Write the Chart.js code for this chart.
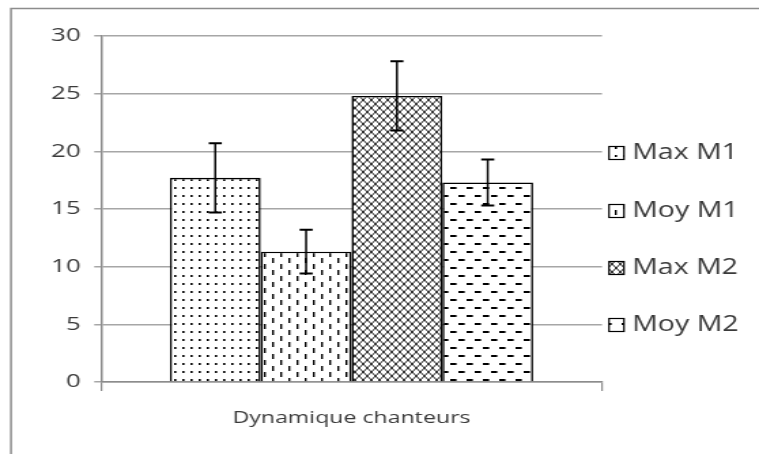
<!DOCTYPE html>
<html>
<head>
<meta charset="utf-8">
<script src="https://cdn.jsdelivr.net/npm/chart.js@4.4.1/dist/chart.umd.min.js"></script>
<style>
  html, body { margin: 0; padding: 0; background: #fff; }
</style>
</head>
<body>
<!-- the picture is stretched sideways, so the canvas is drawn narrow and scaled up -->
<canvas id="chart" width="558" height="454" style="display:block;width:759px;height:454px"></canvas>
<script>
// data
const categories = ["Dynamique chanteurs"];
const seriesNames = ["Max M1", "Moy M1", "Max M2", "Moy M2"];
const seriesValues = [17.7, 11.3, 24.8, 17.3];
const seriesErrors = [3.0, 1.9, 3.0, 2.0];
const yTicks = [0, 5, 10, 15, 20, 25, 30];

const SX = 759 / 558; // horizontal stretch
const TEXT = '#3a3a3a';
const AXIS = '#8c8c8c';
const GRID = '#a6a6a6';

// pattern tiles
function makePattern(w, h, draw) {
    const c = document.createElement('canvas');
    c.width = w; c.height = h;
    const g = c.getContext('2d');
    g.fillStyle = '#fff';
    g.fillRect(0, 0, w, h);
    g.fillStyle = '#000';
    g.strokeStyle = '#000';
    draw(g);
    return document.getElementById('chart').getContext('2d').createPattern(c, 'repeat');
}

const patterns = [
    // fine dots
    makePattern(6, 8, g => { g.fillRect(2, 3, 1.6, 2); }),
    // vertical dashes
    makePattern(12, 12, g => { g.fillRect(2, 0, 1.4, 5); g.fillRect(8, 6, 1.4, 5); }),
    // diagonal crosshatch
    makePattern(6, 8, g => {
        g.lineWidth = 0.9;
        g.beginPath();
        g.moveTo(0, 0); g.lineTo(6, 8);
        g.moveTo(6, 0); g.lineTo(0, 8);
        g.stroke();
    }),
    // horizontal dashes
    makePattern(12, 16, g => { g.fillRect(1, 3, 4.6, 2); g.fillRect(7, 11, 4.6, 2); })
];

const frame = {
    id: 'frame',
    beforeDraw(chart) {
        const ctx = chart.ctx;
        ctx.save();
        ctx.fillStyle = '#fff';
        ctx.fillRect(0, 0, chart.width, chart.height);
        ctx.strokeStyle = '#8c8c8c';
        ctx.lineWidth = 1.5;
        ctx.beginPath();
        ctx.moveTo(11 / SX, chart.height);
        ctx.lineTo(11 / SX, 8.5);
        ctx.lineTo(chart.width, 8.5);
        ctx.stroke();
        ctx.restore();
    }
};

const errorBars = {
    id: 'errorBars',
    afterDatasetsDraw(chart) {
        const ctx = chart.ctx;
        const y = chart.scales.y;
        ctx.save();
        ctx.strokeStyle = '#000';
        chart.data.datasets.forEach((ds, i) => {
            const bar = chart.getDatasetMeta(i).data[0];
            const v = ds.data[0], e = seriesErrors[i];
            const top = y.getPixelForValue(v + e);
            const bottom = y.getPixelForValue(v - e);
            const half = 4.8;
            ctx.lineWidth = 1.5;
            ctx.beginPath();
            ctx.moveTo(bar.x, top); ctx.lineTo(bar.x, bottom);
            ctx.stroke();
            ctx.lineWidth = 2;
            ctx.beginPath();
            ctx.moveTo(bar.x - half, top); ctx.lineTo(bar.x + half, top);
            ctx.moveTo(bar.x - half, bottom); ctx.lineTo(bar.x + half, bottom);
            ctx.stroke();
        });
        ctx.restore();
    }
};

const legendBoxes = {
    id: 'legendBoxes',
    afterDraw(chart) {
        const ctx = chart.ctx;
        const rowY = [153, 211, 268, 325];
        ctx.save();
        ctx.font = '21px "Open Sans"';
        ctx.textBaseline = 'middle';
        chart.data.datasets.forEach((ds, i) => {
            const bx = 609 / SX, by = rowY[i] - 6.5;
            ctx.fillStyle = ds.backgroundColor;
            ctx.fillRect(bx, by, 11, 13);
            ctx.strokeStyle = '#000';
            ctx.lineWidth = 1.2;
            ctx.strokeRect(bx, by, 11, 13);
            ctx.fillStyle = TEXT;
            ctx.fillText(ds.label, 632 / SX, rowY[i]);
        });
        ctx.restore();
    }
};

Chart.defaults.font.family = '"Open Sans"';
Chart.defaults.color = TEXT;

const chart = new Chart(document.getElementById('chart'), {
    type: 'bar',
    data: {
        labels: categories,
        datasets: seriesNames.map((name, i) => ({
            label: name,
            data: [seriesValues[i]],
            backgroundColor: patterns[i],
            borderColor: '#000',
            borderWidth: 1.6,
            categoryPercentage: 0.725,
            barPercentage: 1
        }))
    },
    options: {
        responsive: false,
        animation: false,
        devicePixelRatio: 1,
        layout: { padding: { top: 36, left: 0, right: 558 - 602 / SX, bottom: 0 } },
        plugins: {
            legend: { display: false },
            tooltip: { enabled: false }
        },
        scales: {
            x: {
                afterFit: s => { s.height = 72; },
                grid: { display: true, drawOnChartArea: false, drawTicks: true, tickLength: 9, color: AXIS, lineWidth: 1.2 },
                border: { display: true, color: AXIS, width: 1.5 },
                ticks: { font: { size: 17 }, color: TEXT, padding: 17 }
            },
            y: {
                min: 0,
                max: 30,
                afterFit: s => { s.width = 101 / SX; },
                afterBuildTicks: s => { s.ticks = yTicks.map(v => ({ value: v })); },
                grid: { color: GRID, lineWidth: 1.5, tickLength: 5 },
                border: { display: true, color: AXIS, width: 1.5 },
                ticks: { font: { size: 19 }, color: TEXT, padding: 10 }
            }
        }
    },
    plugins: [frame, errorBars, legendBoxes]
});
chart.canvas.style.width = '759px';
chart.canvas.style.height = '454px';
</script>
</body>
</html>
